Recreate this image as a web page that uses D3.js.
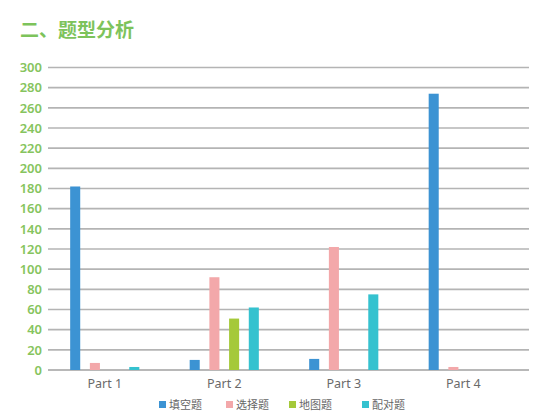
<!DOCTYPE html>
<html>
<head>
<meta charset="utf-8">
<script src="https://cdn.jsdelivr.net/npm/d3@7"></script>
<style>
  body { margin: 0; background: #fff; }
  text { font-family: "Noto Sans", "Noto Sans CJK SC", sans-serif; }
</style>
</head>
<body>
<div class="chart"></div>
<script>
var parts = ["Part 1", "Part 2", "Part 3", "Part 4"];
var seriesNames = ["填空题", "选择题", "地图题", "配对题"];
var fillBlank = [182, 10, 11, 274];
var choice = [7, 92, 122, 3];
var mapQ = [0, 51, 0, 0];
var matching = [3, 62, 75, 0];
var yTicks = [0, 20, 40, 60, 80, 100, 120, 140, 160, 180, 200, 220, 240, 260, 280, 300];

var colors = ["#3c93d3", "#f3a8aa", "#a5c93a", "#35c2cf"];
var seriesValues = [fillBlank, choice, mapQ, matching];

var svgWidth = 546;
var svgHeight = 417;

var svg = d3.select(".chart")
  .append("svg")
  .attr("width", svgWidth)
  .attr("height", svgHeight);

// title
svg.append("text")
  .attr("x", 20)
  .attr("y", 37)
  .attr("fill", "#7dc35b")
  .attr("font-size", 19)
  .attr("font-weight", "bold")
  .style("font-family", "'Noto Sans CJK SC', sans-serif")
  .text("二、题型分析");

// scales
var yScale = d3.scaleLinear()
  .domain([0, 300])
  .range([370, 67.5]);

var x0 = d3.scaleBand()
  .domain(parts)
  .range([45, 523]);

var x1 = d3.scaleBand()
  .domain(seriesNames)
  .range([0, 78.8])
  .paddingInner(0.49)
  .paddingOuter(0.245);

// gridlines
svg.append("g")
  .selectAll("line")
  .data(yTicks)
  .enter()
  .append("line")
  .attr("x1", 48)
  .attr("x2", 529)
  .attr("y1", d => yScale(d))
  .attr("y2", d => yScale(d))
  .attr("stroke", d => d === 0 ? "#a0a0a0" : "#b4b4b4")
  .attr("stroke-width", 1.6);

// y labels
svg.append("g")
  .selectAll("text")
  .data(yTicks)
  .enter()
  .append("text")
  .attr("x", 42)
  .attr("y", d => yScale(d))
  .attr("dy", "0.36em")
  .attr("text-anchor", "end")
  .attr("fill", "#86c45e")
  .attr("font-size", 13)
  .attr("font-weight", 600)
  .text(d => d);

// bars
var rows = parts.map(function(p, i) {
  return seriesNames.map(function(s, j) {
    return { part: p, series: s, value: seriesValues[j][i], color: colors[j] };
  });
});

svg.append("g")
  .selectAll("g")
  .data(rows)
  .enter()
  .append("g")
  .attr("transform", (d, i) => `translate(${x0(parts[i]) + x0.bandwidth() / 2 - 39.4}, 0)`)
  .selectAll("rect")
  .data(d => d.filter(v => v.value > 0))
  .enter()
  .append("rect")
  .attr("x", d => x1(d.series))
  .attr("width", x1.bandwidth())
  .attr("y", d => yScale(d.value))
  .attr("height", d => yScale(0) - yScale(d.value))
  .attr("fill", d => d.color);

// x labels
svg.append("g")
  .selectAll("text")
  .data(parts)
  .enter()
  .append("text")
  .attr("x", d => x0(d) + x0.bandwidth() / 2)
  .attr("y", 388)
  .attr("text-anchor", "middle")
  .attr("fill", "#6a6a6a")
  .attr("font-size", 12.5)
  .text(d => d);

// legend
var legendX = [159, 226, 289, 362];
var legend = svg.append("g")
  .selectAll("g")
  .data(seriesNames)
  .enter()
  .append("g")
  .attr("transform", (d, i) => `translate(${legendX[i]}, 405)`);

legend.append("rect")
  .attr("x", 0)
  .attr("y", -4)
  .attr("width", 7)
  .attr("height", 7)
  .attr("fill", (d, i) => colors[i]);

legend.append("text")
  .attr("x", 10)
  .attr("y", 0)
  .attr("dy", "0.36em")
  .attr("fill", "#666")
  .attr("font-size", 11)
  .style("font-family", "'Noto Sans CJK SC', sans-serif")
  .text(d => d);
</script>
</body>
</html>
